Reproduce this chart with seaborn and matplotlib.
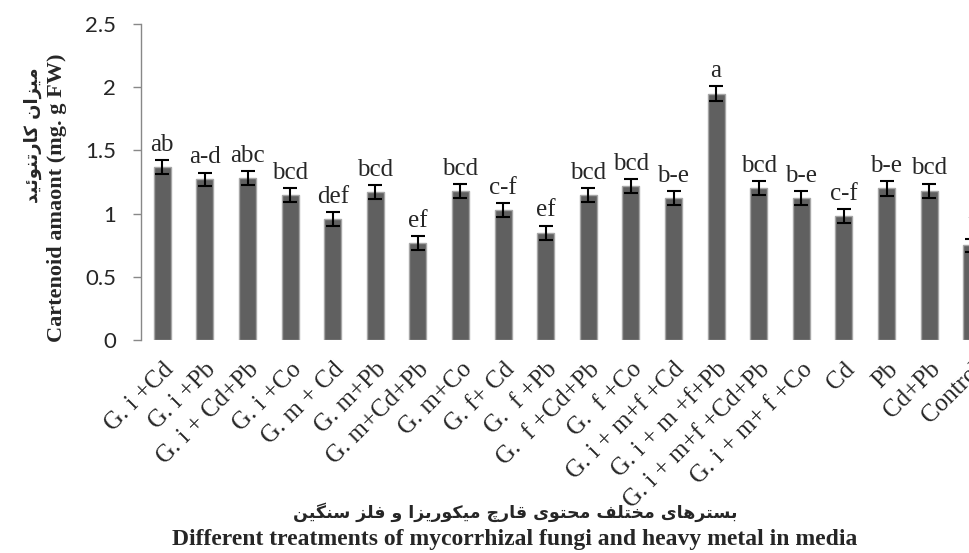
import numpy as np
import pandas as pd
import seaborn as sns
import matplotlib.pyplot as plt

sns.set_style("white")

# ===================== DATA =====================
treatments = ["G. i +Cd", "G. i +Pb", "G. i + Cd+Pb", "G. i +Co", "G. m + Cd",
              "G. m+Pb", "G. m+Cd+Pb", "G. m+Co", "G. f+ Cd", "G.  f +Pb",
              "G.  f +Cd+Pb", "G.  f +Co", "G. i + m+f +Cd", "G. i + m +f+Pb",
              "G. i + m+f +Cd+Pb", "G. i + m+ f +Co", "Cd", "Pb", "Cd+Pb", "Control"]
carotenoid = [1.37, 1.27, 1.28, 1.15, 0.96, 1.17, 0.77, 1.18, 1.03, 0.85,
              1.15, 1.22, 1.12, 1.95, 1.20, 1.12, 0.98, 1.20, 1.18, 0.75]
std_err = [0.053, 0.055, 0.055, 0.055, 0.055, 0.055, 0.055, 0.055, 0.055, 0.055,
           0.055, 0.055, 0.055, 0.061, 0.055, 0.055, 0.055, 0.057, 0.057, 0.053]
letters = ["ab", "a-d", "abc", "bcd", "def", "bcd", "ef", "bcd", "c-f", "ef",
           "bcd", "bcd", "b-e", "a", "bcd", "b-e", "c-f", "b-e", "bcd", "f"]
yticks = [0, 0.5, 1, 1.5, 2, 2.5]

ylabel_fa = "میزان کارتنوئید"
ylabel_en = "Cartenoid amaont (mg. g FW)"
xlabel_fa = "بسترهای مختلف محتوی قارچ میکوریزا و فلز سنگین"
xlabel_en = "Different treatments of mycorrhizal fungi and heavy metal in media"

# ===================== PERSIAN SHAPING =====================
# matplotlib has no arabic shaping, so pick presentation forms by hand
JOIN_FORMS = {
    "\u0627": (0xFE8D, 0xFE8E), "\u062F": (0xFEA9, 0xFEAA),
    "\u0631": (0xFEAD, 0xFEAE), "\u0632": (0xFEAF, 0xFEB0),
    "\u0648": (0xFEED, 0xFEEE),
    "\u0628": (0xFE8F, 0xFE90, 0xFE91, 0xFE92), "\u062A": (0xFE95, 0xFE96, 0xFE97, 0xFE98),
    "\u062D": (0xFEA1, 0xFEA2, 0xFEA3, 0xFEA4), "\u062E": (0xFEA5, 0xFEA6, 0xFEA7, 0xFEA8),
    "\u0633": (0xFEB1, 0xFEB2, 0xFEB3, 0xFEB4), "\u0641": (0xFED1, 0xFED2, 0xFED3, 0xFED4),
    "\u0642": (0xFED5, 0xFED6, 0xFED7, 0xFED8), "\u0644": (0xFEDD, 0xFEDE, 0xFEDF, 0xFEE0),
    "\u0645": (0xFEE1, 0xFEE2, 0xFEE3, 0xFEE4), "\u0646": (0xFEE5, 0xFEE6, 0xFEE7, 0xFEE8),
    "\u0647": (0xFEE9, 0xFEEA, 0xFEEB, 0xFEEC), "\u0626": (0xFE89, 0xFE8A, 0xFE8B, 0xFE8C),
    "\u06CC": (0xFBFC, 0xFBFD, 0xFBFE, 0xFBFF), "\u06A9": (0xFB8E, 0xFB8F, 0xFB90, 0xFB91),
    "\u06AF": (0xFB92, 0xFB93, 0xFB94, 0xFB95), "\u0686": (0xFB7A, 0xFB7B, 0xFB7C, 0xFB7D),
}


def shape_fa(text):
    text = text.replace("\u064A", "\u06CC").replace("\u0643", "\u06A9")
    out = []
    for i, ch in enumerate(text):
        f = JOIN_FORMS.get(ch)
        if f is None:
            out.append(ch)
            continue
        prev = text[i - 1] if i > 0 else ""
        nxt = text[i + 1] if i + 1 < len(text) else ""
        j_prev = prev in JOIN_FORMS and len(JOIN_FORMS[prev]) == 4
        j_next = len(f) == 4 and nxt in JOIN_FORMS
        if j_prev and j_next:
            c = f[3]
        elif j_next:
            c = f[2]
        elif j_prev:
            c = f[1]
        else:
            c = f[0]
        out.append(chr(c))
    return "".join(reversed(out))


df = pd.DataFrame({"Treatment": treatments, "Carotenoid": carotenoid})

# ===================== PLOT =====================
W, H = 970, 553
fig = plt.figure(figsize=(W / 100, H / 100), dpi=100)
ax = fig.add_axes([141 / W, (H - 340) / H, 852 / W, 316 / H])

sns.barplot(data=df, x="Treatment", y="Carotenoid", color="#606060", saturation=1,
            width=0.4, edgecolor="#a6a6a6", linewidth=1, errorbar=None, ax=ax)
xpos = np.arange(len(treatments))
ax.errorbar(xpos, carotenoid, yerr=std_err, fmt="none", ecolor="black",
            elinewidth=1.5, capsize=5, capthick=1.5)

for x, v, e, lab in zip(xpos, carotenoid, std_err, letters):
    ax.annotate(lab, (x, v + e), xytext=(0, 3), textcoords="offset points",
                ha="center", va="bottom", fontsize=18, family="Liberation Serif")

ax.set_xlim(-0.5, len(treatments) - 0.5)
ax.set_ylim(0, 2.5)
ax.set_yticks(yticks)
ax.set_yticklabels([f"{t:g}" for t in yticks], family="Lato", fontsize=16)
ax.tick_params(axis="y", length=6, width=1, color="#888888", pad=12, left=True)
ax.tick_params(axis="x", length=0, pad=13)
ax.set_xticks(xpos)
ax.set_xticklabels(treatments, rotation=45, ha="right", rotation_mode="anchor",
                   family="Liberation Serif", fontsize=18)
ax.set_xlabel("")
ax.set_ylabel("")
for s in ["top", "right", "bottom"]:
    ax.spines[s].set_visible(False)
ax.spines["left"].set_color("#888888")
ax.spines["left"].set_linewidth(1)

# axis titles (two languages each)
fig.text(33 / W, 1 - 67 / H, shape_fa(ylabel_fa), rotation=90, ha="center", va="top",
         family="DejaVu Sans", fontweight="bold", fontsize=13)
fig.text(57 / W, 1 - 53 / H, ylabel_en, rotation=90, ha="center", va="top",
         family="Liberation Serif", fontweight="bold", fontsize=16)
fig.text(515 / W, 1 - 512 / H, shape_fa(xlabel_fa), ha="center", va="center",
         family="DejaVu Sans", fontweight="bold", fontsize=12.5)
fig.text(515 / W, 1 - 540 / H, xlabel_en, ha="center", va="center",
         family="Liberation Serif", fontweight="bold", fontsize=17)

fig.savefig("out.png", dpi=100)
